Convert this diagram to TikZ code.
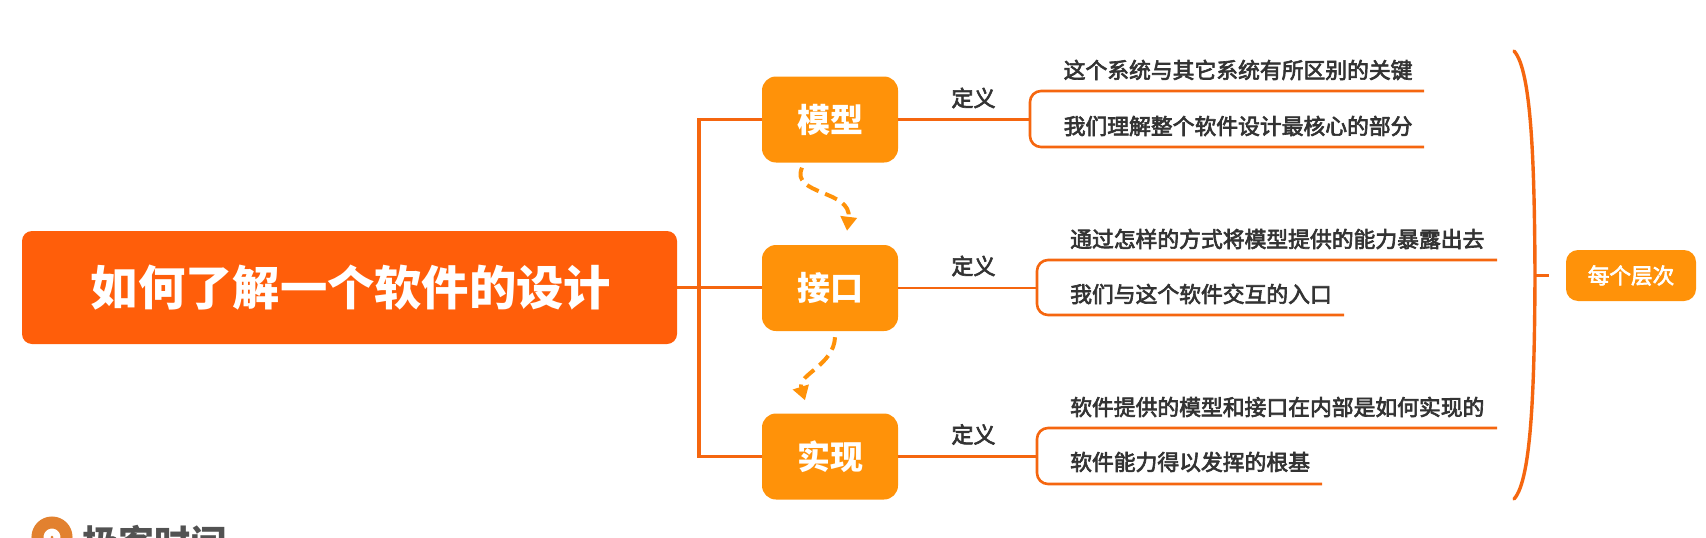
\documentclass[tikz,border=0pt]{standalone}
\usepackage{fontspec}
\setmainfont{Noto Sans CJK SC}
\newfontfamily\leaffont[FakeBold=3]{Noto Sans CJK SC}
\usetikzlibrary{arrows.meta}
\usepackage{color}

\definecolor{titleorange}{HTML}{FF5E0A}
\definecolor{boxorange}{HTML}{FF9209}
\definecolor{lineorange}{HTML}{F5660F}
\definecolor{leafgray}{HTML}{333333}
\definecolor{logoorange}{HTML}{E2812F}

\tikzset{
    titlebox/.style={fill=titleorange,text=white,rounded corners=10pt,minimum width=655pt,minimum height=113pt,inner sep=0pt,font=\fontsize{47.3pt}{56pt}\selectfont\bfseries},
    layerbox/.style={fill=boxorange,text=white,rounded corners=14pt,minimum width=136pt,minimum height=86pt,inner sep=0pt,font=\fontsize{33pt}{40pt}\selectfont\bfseries},
    tagbox/.style={fill=boxorange,text=white,rounded corners=12pt,minimum width=130pt,minimum height=51pt,inner sep=0pt,font=\fontsize{21.6pt}{26pt}\selectfont\leaffont},
    deflabel/.style={text=leafgray,inner sep=0pt,font=\fontsize{22pt}{26pt}\selectfont\leaffont},
    leaf/.style={text=leafgray,anchor=west,inner sep=0pt,font=\fontsize{21.8pt}{26pt}\selectfont\leaffont},
    trunk/.style={draw=lineorange,line width=3.6pt},
    twig/.style={draw=lineorange,line width=2.6pt},
    flow/.style={draw=boxorange,line width=4pt,dash pattern=on 13pt off 7pt,-{Triangle[length=14pt,width=16pt]}}
}

\begin{document}
\begin{tikzpicture}[x=1pt,y=-1pt]
    \useasboundingbox (0,0) rectangle (1706,538);
    \clip (0,0) rectangle (1706,538);

    % Main nodes
    \node[titlebox] (title) at (349.5,287.5) {\hspace{3pt}如何了解一个软件的设计};
    \node[layerbox] (model) at (830,119.5) {模型};
    \node[layerbox] (iface) at (830,288) {接口};
    \node[layerbox] (impl) at (830,456.5) {实现};
    \node[tagbox] (every) at (1631,275.5) {每个层次};

    % Definition labels
    \node[deflabel] (defa) at (973.5,98) {定义};
    \node[deflabel] (defb) at (973.5,266) {定义};
    \node[deflabel] (defc) at (973.5,434.5) {定义};

    % Leaf texts
    \node[leaf] (a1) at (1063.5,70) {这个系统与其它系统有所区别的关键};
    \node[leaf] (a2) at (1063.5,126) {我们理解整个软件设计最核心的部分};
    \node[leaf] (b1) at (1070,239) {通过怎样的方式将模型提供的能力暴露出去};
    \node[leaf] (b2) at (1070,294) {我们与这个软件交互的入口};
    \node[leaf] (c1) at (1070,407) {软件提供的模型和接口在内部是如何实现的};
    \node[leaf] (c2) at (1070,462) {软件能力得以发挥的根基};

    % Joints and line ends
    \coordinate (busa) at (699,119.5);
    \coordinate (busc) at (699,456.5);
    \coordinate (ja) at (1030,119.5);
    \coordinate (jb) at (1037,288);
    \coordinate (jc) at (1037,456.5);
    \coordinate (a1end) at (1424,91);
    \coordinate (a2end) at (1424,147);
    \coordinate (b1end) at (1497,260);
    \coordinate (b2end) at (1344,315);
    \coordinate (c1end) at (1497,428);
    \coordinate (c2end) at (1322,484);
    \coordinate (bracetop) at (1514,51);
    \coordinate (bracemid) at (1535,275.5);
    \coordinate (bracebot) at (1514,499);

    % Trunk from the title to the layers
    \draw[trunk] (title.east) -- (title.east -| iface.west);
    \draw[trunk] (model.west) -- (busa) -- (busc) -- (impl.west);

    % Layers to their definitions
    \draw[twig] (model.east) -- (ja);
    \draw[twig] (iface.east) -- (jb);
    \draw[twig] (impl.east) -- (jc);
    \draw[twig,rounded corners=11pt] (a1end) -- (ja |- a1end) -- (ja |- a2end) -- (a2end);
    \draw[twig,rounded corners=11pt] (b1end) -- (jb |- b1end) -- (jb |- b2end) -- (b2end);
    \draw[twig,rounded corners=11pt] (c1end) -- (jc |- c1end) -- (jc |- c2end) -- (c2end);

    % Dashed arrows between the layers
    \draw[flow] ([shift={(-28,5)}]model.south) .. controls (790,195) and (852,190) .. ([shift={(17,-14)}]iface.north);
    \draw[flow] ([shift={(5,6)}]iface.south) .. controls (834,365) and (797,375) .. ([shift={(-25,-13)}]impl.north);

    % Big brace
    \draw[draw=lineorange,line width=3.4pt,line cap=round] (bracetop) .. controls (1532,70) and (1534.5,170) .. (bracemid) .. controls (1534.5,380) and (1532,480) .. (bracebot);
    \draw[draw=lineorange,line width=3.4pt] (bracemid) -- ([xshift=-17pt]every.west);

    % Logo at the bottom edge
    \draw[draw=logoorange,line width=12pt] (52,537) circle[radius=14.5];
    \fill[logoorange] (52,537) circle[radius=1.5];
    \node[text=black!68,anchor=west,inner sep=0pt,font=\fontsize{36pt}{40pt}\selectfont\bfseries] (logo) at (82,543) {极客时间};
\end{tikzpicture}
\end{document}
